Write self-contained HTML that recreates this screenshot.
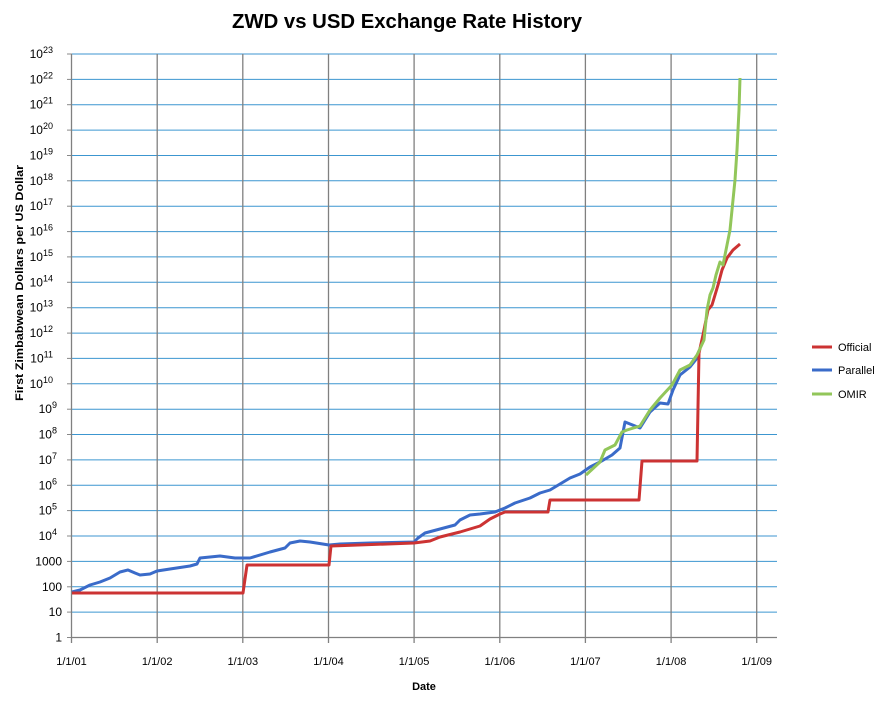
<!DOCTYPE html>
<html><head><style>body{margin:0;background:#fff}svg{display:block;font-family:"Liberation Sans",Calibri,sans-serif}</style></head><body>
<svg width="890" height="705" viewBox="0 0 890 705">
<text x="407" y="28" text-anchor="middle" font-size="20" font-weight="bold" textLength="350" lengthAdjust="spacingAndGlyphs">ZWD vs USD Exchange Rate History</text>
<g id="g"></g>
<text x="424" y="690" text-anchor="middle" font-size="11" font-weight="bold">Date</text>
<text transform="translate(23,283) rotate(-90)" text-anchor="middle" font-size="11" font-weight="bold" textLength="236" lengthAdjust="spacingAndGlyphs">First Zimbabwean Dollars per US Dollar</text>
<g stroke-width="3" fill="none" stroke-linejoin="round">
<polyline stroke="#3a6bc9" points="72,592 80,590 90,585 100,582 110,578 115,575 120,572 128,570 135,573 140,575 150,574 157,571 170,569 190,566 197,564 200,558 220,556 235,558 250,558 270,552 285,548 290,543 300,541 310,542 329,545 340,544 370,543 414,542 418,538 425,533 440,529 455,525 460,520 470,515 480,514 495,512 505,508 515,503 530,498 540,493 550,490 570,478 580,474 590,467 600,462 612,455 620,448 625,422 640,428 650,412 660,403 668,404 673,390 680,375 690,367 698,357"/>
<polyline stroke="#cc3333" points="72,593 243,593 247,565 329,565 331,546 414,543 430,541 440,537 460,532 480,526 490,519 500,514 505,512 548,512 550,500 639,500 642,461 697,461 699,353 703,335 708,310 712,305 718,285 722,270 727,258 733,250 740,244"/>
<polyline stroke="#92c65a" points="586,475 600,462 605,450 615,445 622,432 627,430 640,426 650,410 660,398 672,385 680,370 690,365 697,355 704,340 707,310 710,295 713,288 716,275 720,262 723,265 727,245 730,230 732,210 735,180 737,150 739,110 740,78"/>
</g>
<g font-size="11">
<line x1="812" y1="347" x2="832" y2="347" stroke="#cc3333" stroke-width="3"/><text x="838" y="351">Official</text>
<line x1="812" y1="370" x2="832" y2="370" stroke="#3a6bc9" stroke-width="3"/><text x="838" y="374">Parallel</text>
<line x1="812" y1="394" x2="832" y2="394" stroke="#92c65a" stroke-width="3"/><text x="838" y="398">OMIR</text>
</g>
</svg>
<script>
var g=document.getElementById('g'),s='';
var y0=637.5,d=25.37,x0=71.5,yw=85.65;
for(var i=0;i<=23;i++){var y=(y0-i*d).toFixed(1);
 if(i>0)s+='<line x1="72" x2="777" y1="'+y+'" y2="'+y+'" stroke="#3c96d0" stroke-width="1"/>';
 s+='<line x1="67" x2="72" y1="'+y+'" y2="'+y+'" stroke="#888"/>';
 var lab=i<4?String(Math.pow(10,i)):'10<tspan dy="-5" font-size="9">'+i+'</tspan>';
 s+='<text x="'+(i<4?62:(i<10?57:53))+'" y="'+(+y+4)+'" text-anchor="end" font-size="12">'+lab+'</text>';}
for(var k=0;k<=8;k++){var x=(x0+k*yw).toFixed(1);
 s+='<line x1="'+x+'" x2="'+x+'" y1="54" y2="643" stroke="#808080" stroke-width="1.3"/>';
 s+='<text x="'+x+'" y="665" text-anchor="middle" font-size="11">1/1/0'+(k+1)+'</text>';}
s+='<line x1="72" x2="777" y1="637.5" y2="637.5" stroke="#808080" stroke-width="1.3"/>';
g.innerHTML=s;
</script>
</body></html>
